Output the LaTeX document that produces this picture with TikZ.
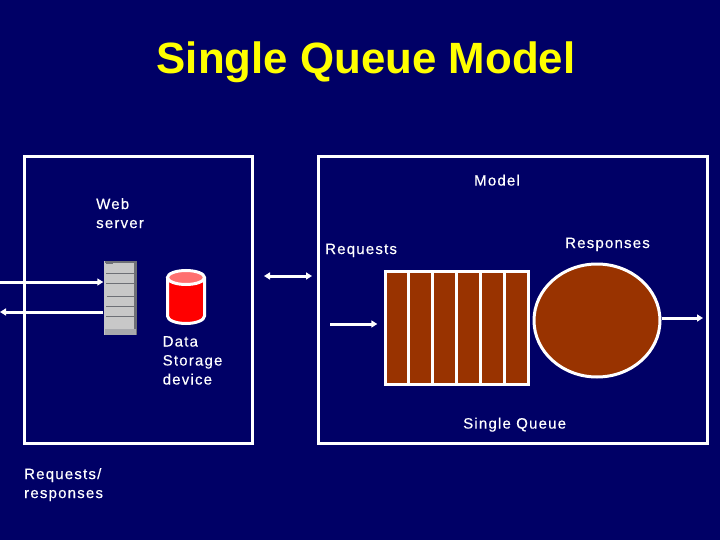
\documentclass[tikz,border=0pt]{standalone}
\usepackage{fontspec}
\setmainfont{Liberation Sans}
\newfontfamily\labfont[LetterSpace=8,FakeBold=0.3]{Liberation Sans}
\usetikzlibrary{arrows.meta,shapes.geometric}
\definecolor{bgblue}{HTML}{000066}
\definecolor{titley}{HTML}{FFFF00}
\definecolor{brick}{HTML}{993300}
\definecolor{srvgray}{HTML}{C8C8C8}
\definecolor{srvdark}{HTML}{6E7076}
\definecolor{cylred}{HTML}{FF0000}
\definecolor{cylpink}{HTML}{FF7070}
\tikzset{
 x=1pt,y=-1pt,
 panel/.style={rectangle,draw=white,line width=3pt,fill=none,inner sep=0pt},
 lab/.style={text=white,font=\labfont\fontsize{15}{19}\selectfont,align=left,inner sep=0pt,anchor=north west},
 flow/.style={draw=white,line width=3pt,-{Stealth[length=6pt,width=7pt,inset=0pt]}},
 flowtwo/.style={draw=white,line width=3pt,{Stealth[length=6pt,width=7pt,inset=0pt]}-{Stealth[length=6pt,width=7pt,inset=0pt]}},
 cell/.style={fill=brick,draw=none},
 srvline/.style={draw=srvdark,line width=.6pt},
}
\begin{document}
\begin{tikzpicture}
\useasboundingbox (0,0) rectangle (720,540);
\fill[bgblue] (0,0) rectangle (720,540);
\node[text=titley,font=\bfseries\fontsize{43.8}{48}\selectfont,inner sep=0pt] (title) at (366,62) {Single Queue Model};
% panels
\node[panel,minimum width=228pt,minimum height=286.5pt] (webbox) at (138.5,300) {};
\node[panel,minimum width=389pt,minimum height=286.5pt] (modelbox) at (513,300) {};
\node[lab] (web) at (96,198) {Web\\server};
\node[lab] (model) at (474,174.5) {Model};
\node[lab] (req) at (325,243.5) {Requests};
\node[lab] (resp) at (565,237.5) {Responses};
\node[lab] (data) at (162.5,336) {Data\\Storage\\device};
\node[lab] (sq) at (463,417.5) {Single Queue};
\node[lab] (rr) at (24,468) {Requests/\\responses};
% server
\node[draw=none,fill=srvgray,minimum width=33pt,minimum height=74pt,inner sep=0pt] (server) at (120,298) {};
\fill[srvdark] (134,262) rectangle (136.5,335);
\fill[srvdark] (103.5,261) rectangle (136.5,262.5);
\fill[srvdark!60] (103.5,329) rectangle (136,335);
\fill[srvdark!40] (103.5,261) rectangle (105,335);
\draw[srvline] (106,273.5) -- (134,273.5);
\draw[srvline] (106,283.5) -- (134,283.5);
\draw[srvline,line width=.9pt] (106.5,296) -- (134,296);
\draw[srvline] (106,306) -- (134,306);
\draw[srvline] (106,316) -- (134,316);
\fill[srvdark] (106,262.5) rectangle (113,264);
% cylinder
\draw[white,line width=3pt,fill=cylred] (167.5,278) -- (167.5,316) arc[start angle=180,end angle=0,x radius=18.5,y radius=7.5] -- (204.5,278);
\draw[white,line width=3pt,fill=cylpink] (186,277.5) ellipse[x radius=18.5,y radius=7];
% queue
\node[fill=white,minimum width=146pt,minimum height=116pt,inner sep=0pt] (queue) at (456.5,327.5) {};
\fill[cell] (386.5,272.5) rectangle (407,383);
\fill[cell] (410,272.5) rectangle (431,383);
\fill[cell] (434,272.5) rectangle (455,383);
\fill[cell] (458,272.5) rectangle (479,383);
\fill[cell] (482,272.5) rectangle (503,383);
\fill[cell] (506,272.5) rectangle (527,383);
% server circle
\node[ellipse,draw=white,line width=3pt,fill=brick,minimum width=126pt,minimum height=113pt,inner sep=0pt] (srv) at (597,320.5) {};
% connectors
\coordinate (inL) at (0,282);
\coordinate (outL) at (0,312);
\coordinate (a1) at (264,276);
\coordinate (a2) at (312,276);
\coordinate (b1) at (330,324);
\coordinate (outR) at (703,318);
\draw[flow] (inL) -- (server.west |- inL);
\draw[flow] (server.west |- outL) -- (outL);
\draw[flowtwo] (a1) -- (a2);
\draw[flow] (b1) -- ([xshift=-6pt]queue.west |- b1);
\draw[flow] (srv.east |- outR) -- (outR);
\end{tikzpicture}
\end{document}
